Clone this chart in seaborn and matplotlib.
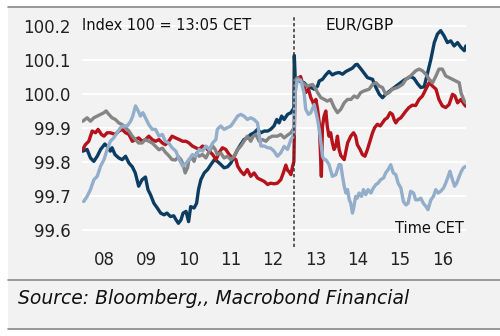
import matplotlib
matplotlib.use("Agg")
import matplotlib.pyplot as plt
import seaborn as sns
import pandas as pd
from matplotlib.patches import Rectangle
from matplotlib.lines import Line2D

# ---------------- data (hours CET, index values) ----------------
series_names = ["Dark blue", "Red", "Grey", "Light blue"]
series_colors = ["#0b3d63", "#b5121b", "#858585", "#92aecb"]

t_dark = [8.00, 8.10, 8.18, 8.26, 8.34, 8.42, 8.52, 8.575, 8.65, 8.69, 8.76, 8.85, 8.93, 9.01, 9.09, 9.17, 9.24, 9.32, 9.40, 9.48,
          9.54, 9.60, 9.68, 9.76, 9.84, 9.92, 9.99, 10.07, 10.15, 10.20, 10.26, 10.32, 10.37, 10.44, 10.50, 10.55, 10.63, 10.69,
          10.735, 10.79, 10.87, 10.95, 11.03, 11.11, 11.18, 11.26, 11.34, 11.42, 11.50, 11.58, 11.66, 11.735, 11.81, 11.89, 11.97,
          12.05, 12.13, 12.21, 12.29, 12.37, 12.44, 12.52, 12.586, 12.64, 12.70, 12.76, 12.84, 12.92, 12.97, 12.99, 13.00, 13.02,
          13.075, 13.15, 13.23, 13.31, 13.39, 13.47, 13.55, 13.59, 13.666, 13.745, 13.82, 13.90, 13.98, 14.06, 14.14, 14.22, 14.30,
          14.375, 14.45, 14.49, 14.61, 14.73, 14.85, 14.93, 15.01, 15.085, 15.16, 15.28, 15.44, 15.60, 15.75, 15.83, 15.91, 15.99,
          16.07, 16.15, 16.23, 16.31, 16.385, 16.46, 16.54, 16.62, 16.70, 16.78, 16.86, 16.94, 17.02, 17.055]
v_dark = [99.831, 99.836, 99.811, 99.801, 99.816, 99.836, 99.852, 99.845, 99.831, 99.841, 99.821, 99.811, 99.806, 99.816, 99.796,
          99.785, 99.767, 99.728, 99.747, 99.755, 99.718, 99.703, 99.678, 99.664, 99.649, 99.644, 99.649, 99.639, 99.641, 99.630,
          99.619, 99.629, 99.649, 99.654, 99.624, 99.668, 99.664, 99.678, 99.718, 99.747, 99.767, 99.777, 99.792, 99.806, 99.801,
          99.792, 99.782, 99.785, 99.796, 99.816, 99.836, 99.851, 99.865, 99.870, 99.880, 99.885, 99.895, 99.885, 99.890, 99.890,
          99.895, 99.905, 99.924, 99.914, 99.934, 99.924, 99.939, 99.944, 99.954, 99.950, 100.112, 100.050, 100.040, 100.035,
          100.032, 100.022, 100.018, 100.013, 100.022, 100.037, 100.042, 100.055, 100.065, 100.055, 100.060, 100.062, 100.057,
          100.065, 100.070, 100.075, 100.085, 100.086, 100.067, 100.047, 100.042, 100.018, 99.998, 99.988, 99.998, 100.010,
          100.025, 100.040, 100.050, 100.045, 100.030, 100.018, 100.020, 100.060, 100.101, 100.150, 100.175, 100.185, 100.170,
          100.150, 100.155, 100.140, 100.150, 100.136, 100.126, 100.140]

t_red = [8.00, 8.06, 8.14, 8.22, 8.30, 8.36, 8.44, 8.50, 8.575, 8.65, 8.77, 8.85, 8.93, 9.01, 9.09, 9.17, 9.24, 9.32, 9.40, 9.48,
         9.56, 9.64, 9.72, 9.80, 9.88, 9.95, 10.03, 10.11, 10.19, 10.28, 10.36, 10.44, 10.51, 10.59, 10.67, 10.75, 10.83, 10.91,
         10.99, 11.07, 11.15, 11.22, 11.30, 11.38, 11.46, 11.54, 11.62, 11.66, 11.735, 11.81, 11.89, 11.97, 12.05, 12.13, 12.21,
         12.29, 12.37, 12.44, 12.52, 12.60, 12.68, 12.74, 12.80, 12.84, 12.88, 12.92, 12.96, 12.99, 13.02, 13.08, 13.15, 13.19,
         13.23, 13.27, 13.335, 13.39, 13.43, 13.47, 13.51, 13.55, 13.59, 13.62, 13.64, 13.666, 13.705, 13.745, 13.78, 13.82,
         13.86, 13.90, 13.94, 13.98, 14.02, 14.06, 14.10, 14.18, 14.26, 14.335, 14.40, 14.45, 14.49, 14.555, 14.61, 14.67, 14.73,
         14.79, 14.85, 14.90, 14.965, 15.03, 15.084, 15.14, 15.20, 15.265, 15.32, 15.36, 15.40, 15.455, 15.52, 15.58, 15.64,
         15.71, 15.79, 15.87, 15.95, 16.03, 16.11, 16.19, 16.27, 16.35, 16.42, 16.50, 16.58, 16.66, 16.74, 16.80, 16.86, 16.94,
         17.02, 17.055]
v_red = [99.836, 99.850, 99.860, 99.890, 99.885, 99.895, 99.880, 99.875, 99.885, 99.885, 99.880, 99.890, 99.895, 99.885, 99.880,
         99.860, 99.865, 99.870, 99.860, 99.865, 99.875, 99.865, 99.860, 99.865, 99.855, 99.850, 99.860, 99.875, 99.870, 99.865,
         99.860, 99.860, 99.855, 99.846, 99.841, 99.836, 99.846, 99.841, 99.831, 99.821, 99.806, 99.826, 99.841, 99.836, 99.821,
         99.811, 99.806, 99.787, 99.772, 99.762, 99.777, 99.757, 99.767, 99.752, 99.747, 99.742, 99.733, 99.737, 99.735, 99.737,
         99.747, 99.767, 99.790, 99.775, 99.770, 99.762, 99.787, 99.800, 100.030, 100.045, 100.050, 100.032, 100.022, 100.003,
         100.013, 99.988, 99.978, 99.963, 99.983, 99.954, 99.914, 99.816, 99.757, 99.904, 99.934, 99.949, 99.904, 99.875, 99.885,
         99.855, 99.836, 99.846, 99.875, 99.836, 99.818, 99.806, 99.855, 99.875, 99.885, 99.875, 99.850, 99.836, 99.821, 99.816,
         99.836, 99.860, 99.885, 99.900, 99.910, 99.905, 99.914, 99.924, 99.929, 99.944, 99.939, 99.924, 99.914, 99.924, 99.929,
         99.939, 99.949, 99.959, 99.966, 99.965, 99.983, 99.993, 100.013, 100.032, 100.022, 100.013, 99.983, 99.964, 99.959,
         99.968, 99.998, 99.993, 99.973, 99.983, 99.968, 99.963]

t_grey = [8.00, 8.10, 8.18, 8.26, 8.34, 8.42, 8.50, 8.55, 8.615, 8.69, 8.77, 8.85, 8.93, 9.01, 9.09, 9.17, 9.24, 9.32, 9.40, 9.48,
          9.56, 9.64, 9.72, 9.80, 9.88, 9.95, 10.03, 10.11, 10.19, 10.26, 10.32, 10.37, 10.42, 10.475, 10.51, 10.58, 10.63, 10.69,
          10.75, 10.83, 10.91, 10.99, 11.07, 11.13, 11.18, 11.26, 11.34, 11.42, 11.50, 11.58, 11.66, 11.735, 11.81, 11.89, 11.97,
          12.03, 12.09, 12.17, 12.25, 12.33, 12.40, 12.48, 12.55, 12.60, 12.68, 12.76, 12.84, 12.92, 12.97, 12.99, 13.02, 13.075,
          13.19, 13.31, 13.43, 13.51, 13.55, 13.63, 13.71, 13.78, 13.86, 13.94, 14.02, 14.10, 14.18, 14.26, 14.34, 14.415, 14.49,
          14.57, 14.65, 14.77, 14.85, 14.93, 15.01, 15.085, 15.16, 15.24, 15.32, 15.44, 15.56, 15.64, 15.75, 15.87, 15.95, 16.03,
          16.11, 16.19, 16.27, 16.35, 16.42, 16.50, 16.58, 16.66, 16.74, 16.82, 16.90, 16.94, 17.02, 17.055]
v_grey = [99.919, 99.929, 99.919, 99.929, 99.934, 99.939, 99.944, 99.949, 99.939, 99.929, 99.924, 99.914, 99.909, 99.900, 99.890,
          99.875, 99.865, 99.855, 99.855, 99.865, 99.860, 99.855, 99.845, 99.835, 99.840, 99.828, 99.818, 99.806, 99.805, 99.815,
          99.806, 99.792, 99.767, 99.782, 99.806, 99.811, 99.801, 99.826, 99.816, 99.821, 99.811, 99.831, 99.846, 99.836, 99.821,
          99.826, 99.811, 99.816, 99.806, 99.816, 99.836, 99.846, 99.860, 99.875, 99.860, 99.875, 99.880, 99.860, 99.865, 99.860,
          99.870, 99.875, 99.875, 99.875, 99.880, 99.870, 99.878, 99.885, 99.895, 99.900, 100.040, 100.047, 100.032, 100.022,
          100.027, 100.013, 100.003, 99.988, 99.983, 99.978, 99.983, 99.960, 99.944, 99.954, 99.973, 99.983, 99.983, 99.993,
          99.988, 100.003, 100.008, 100.013, 100.027, 100.032, 100.022, 100.018, 99.998, 100.003, 100.013, 100.018, 100.027,
          100.042, 100.052, 100.067, 100.072, 100.067, 100.057, 100.042, 100.032, 100.052, 100.072, 100.072, 100.052, 100.047,
          100.042, 100.037, 100.032, 100.003, 99.978, 99.973]

t_light = [8.02, 8.10, 8.18, 8.26, 8.34, 8.42, 8.50, 8.575, 8.65, 8.73, 8.81, 8.89, 8.97, 9.05, 9.13, 9.18, 9.245, 9.31, 9.36, 9.42,
           9.48, 9.56, 9.64, 9.72, 9.80, 9.88, 9.95, 10.03, 10.11, 10.20, 10.28, 10.36, 10.44, 10.51, 10.59, 10.67, 10.75, 10.83,
           10.91, 10.99, 11.07, 11.145, 11.18, 11.26, 11.34, 11.42, 11.50, 11.58, 11.66, 11.735, 11.81, 11.89, 11.97, 12.05, 12.13,
           12.17, 12.21, 12.29, 12.37, 12.44, 12.52, 12.60, 12.68, 12.76, 12.84, 12.92, 12.97, 12.99, 13.02, 13.07, 13.15, 13.23,
           13.27, 13.335, 13.39, 13.47, 13.55, 13.59, 13.63, 13.666, 13.705, 13.745, 13.82, 13.90, 13.98, 14.06, 14.10, 14.14,
           14.18, 14.22, 14.26, 14.30, 14.335, 14.375, 14.41, 14.45, 14.49, 14.53, 14.59, 14.635, 14.69, 14.745, 14.81, 14.87,
           14.93, 14.98, 15.04, 15.11, 15.16, 15.22, 15.28, 15.34, 15.40, 15.455, 15.52, 15.58, 15.64, 15.69, 15.75, 15.82, 15.87,
           15.93, 15.99, 16.05, 16.11, 16.16, 16.23, 16.29, 16.345, 16.40, 16.46, 16.53, 16.58, 16.64, 16.68, 16.74, 16.79, 16.84,
           16.90, 16.95, 17.00, 17.055]
v_light = [99.683, 99.698, 99.718, 99.747, 99.757, 99.787, 99.806, 99.836, 99.860, 99.870, 99.885, 99.900, 99.905, 99.905, 99.919,
           99.934, 99.964, 99.949, 99.934, 99.944, 99.929, 99.909, 99.895, 99.895, 99.875, 99.880, 99.860, 99.855, 99.841, 99.831,
           99.806, 99.787, 99.796, 99.806, 99.821, 99.816, 99.836, 99.831, 99.846, 99.836, 99.855, 99.865, 99.895, 99.905, 99.895,
           99.900, 99.905, 99.919, 99.934, 99.939, 99.934, 99.924, 99.929, 99.924, 99.914, 99.880, 99.846, 99.846, 99.841, 99.840,
           99.831, 99.816, 99.826, 99.845, 99.836, 99.865, 99.875, 99.880, 100.000, 100.040, 100.040, 100.003, 99.954, 99.939,
           99.944, 99.968, 99.924, 99.895, 99.855, 99.816, 99.806, 99.806, 99.792, 99.757, 99.762, 99.792, 99.791, 99.757, 99.728,
           99.708, 99.718, 99.688, 99.678, 99.649, 99.668, 99.698, 99.693, 99.708, 99.698, 99.718, 99.703, 99.718, 99.708, 99.723,
           99.733, 99.737, 99.747, 99.752, 99.767, 99.777, 99.791, 99.767, 99.762, 99.737, 99.723, 99.683, 99.673, 99.678, 99.713,
           99.708, 99.688, 99.688, 99.693, 99.678, 99.669, 99.659, 99.688, 99.698, 99.718, 99.708, 99.713, 99.723, 99.737, 99.757,
           99.772, 99.747, 99.728, 99.737, 99.757, 99.772, 99.782, 99.786]

y_ticks = [99.6, 99.7, 99.8, 99.9, 100.0, 100.1, 100.2]
hour_ticks = [8, 9, 10, 11, 12, 13, 14, 15, 16, 17]
hour_labels = ["08", "09", "10", "11", "12", "13", "14", "15", "16"]
event_time = 13.0

# ---------------- build long frame ----------------
frames = []
for name, t, v in zip(series_names, [t_dark, t_red, t_grey, t_light], [v_dark, v_red, v_grey, v_light]):
    frames.append(pd.DataFrame({"time": t, "value": v, "series": name}))
df = pd.concat(frames, ignore_index=True)

# ---------------- figure ----------------
sns.set_style("white")
plt.rcParams["font.family"] = ["DejaVu Sans"]
BG = "#f2f2f2"

fig = plt.figure(figsize=(5.0, 3.36), dpi=100, facecolor="white")
W, H = 500, 336
fig.patches.append(Rectangle((8 / W, 1 - 330 / H), 1 - 8 / W, (330 - 7) / H, transform=fig.transFigure,
                             facecolor=BG, edgecolor="none", zorder=-10))
for yy in (7, 280, 329):
    fig.lines.append(Line2D([8 / W, 1], [1 - yy / H, 1 - yy / H], transform=fig.transFigure,
                            color="#8a8a8a", lw=1.2))

ax = fig.add_axes([82 / W, 1 - 240 / H, (466 - 82) / W, (240 - 16) / H])
ax.set_facecolor(BG)
for s in ax.spines.values():
    s.set_visible(False)

for yv in y_ticks:
    ax.axhline(yv, color="white", lw=1.4, zorder=0)

sns.lineplot(data=df, x="time", y="value", hue="series", hue_order=series_names,
             palette=series_colors, sort=False, estimator=None, lw=2.4, legend=False, ax=ax)

ax.axvline(event_time, ymin=-0.03, ymax=1.0, color="#333333", lw=1.1, ls=(0, (2.2, 1.6)), clip_on=False, zorder=5)

ax.set_xlim(7.98, 17.06)
ax.set_ylim(99.57, 100.228)
ax.set_yticks(y_ticks)
ax.set_yticklabels([f"{v:.1f}" for v in y_ticks])
ax.set_xticks(hour_ticks)
ax.set_xticklabels([])
ax.set_xticks([h + 0.5 for h in hour_ticks[:-1]], minor=True)
ax.set_xticklabels(hour_labels, minor=True)
ax.tick_params(axis="x", which="major", length=4, width=1, color="#333333", direction="out", pad=2)
ax.tick_params(axis="x", which="minor", length=0, pad=8, labelsize=12, labelcolor="#222222")
ax.tick_params(axis="y", length=4, width=1, color="#333333", direction="out", pad=4, labelsize=12, labelcolor="#222222")
ax.set_xlabel("")
ax.set_ylabel("")

ax.text(0.0, 100.2, "Index 100 = 13:05 CET", fontsize=10.5, color="#111111", va="center", ha="left",
        transform=ax.get_yaxis_transform())
ax.text(14.55, 100.2, "EUR/GBP", fontsize=11, color="#111111", va="center", ha="center")
ax.text(0.995, 99.605, "Time CET", fontsize=10.5, color="#111111", va="center", ha="right",
        transform=ax.get_yaxis_transform())

fig.text(18 / W, 1 - 298 / H, "Source: Bloomberg,, Macrobond Financial", fontsize=13.5, style="italic",
         color="#111111", va="center", ha="left")

fig.savefig("out.png", dpi=100, facecolor=fig.get_facecolor())
